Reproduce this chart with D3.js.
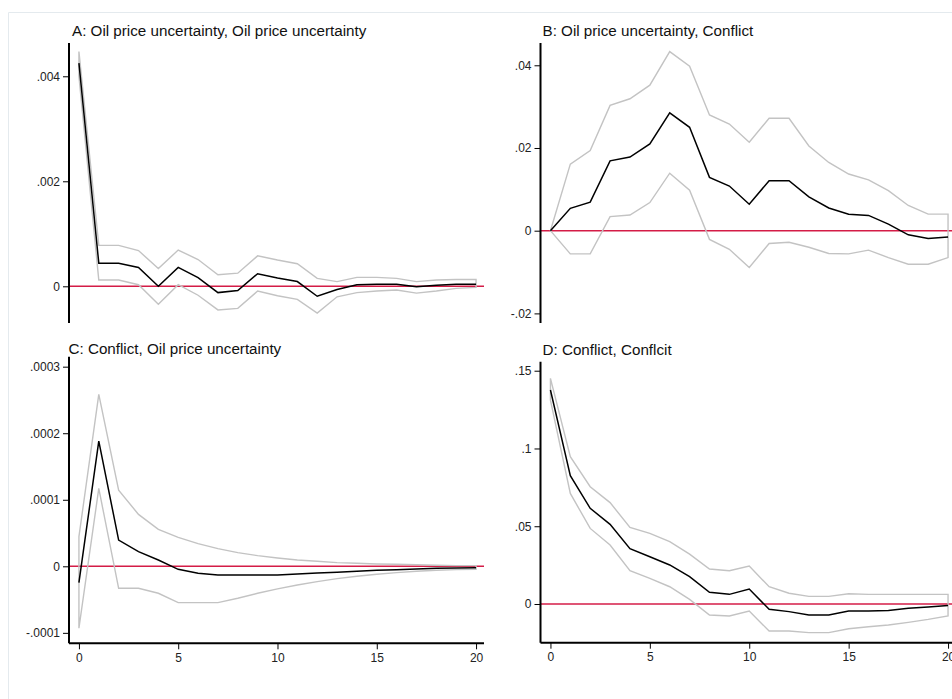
<!DOCTYPE html>
<html>
<head>
<meta charset="utf-8">
<script src="https://cdn.jsdelivr.net/npm/d3@7"></script>
<style>
body { margin: 0; background: #fff; }
text { font-family: Arial, "Liberation Sans", sans-serif; }
</style>
</head>
<body>
<script>
// horizon (steps after the shock)
var steps = d3.range(0, 21)
var xTicks = [0, 5, 10, 15, 20]

var titleA = "A: Oil price uncertainty, Oil price uncertainty"
var titleB = "B: Oil price uncertainty, Conflict"
var titleC = "C: Conflict, Oil price uncertainty"
var titleD = "D: Conflict, Conflcit"

// A: oil price uncertainty -> oil price uncertainty
var irfA = [0.00425, 0.00044, 0.00044, 0.00036, 0.0, 0.00036, 0.000165, -0.00012, -0.00008, 0.00024, 0.00016,
	0.00009, -0.00019, -0.00006, 0.00003, 0.00004, 0.00004, -0.00001, 0.00002, 0.00004, 0.00004]
var upA = [0.00447, 0.00078, 0.00078, 0.00068, 0.00034, 0.00069, 0.00051, 0.00022, 0.00025, 0.00058, 0.0005,
	0.00043, 0.00015, 0.00009, 0.00017, 0.00017, 0.00015, 0.00009, 0.00012, 0.00013, 0.00013]
var loA = [0.0040, 0.00012, 0.00012, 0.00003, -0.00034, 0.00003, -0.00017, -0.00045, -0.00042, -0.00009, -0.00018,
	-0.00025, -0.00051, -0.0002, -0.00012, -0.00009, -0.00007, -0.00013, -0.00009, -0.00004, -0.00002]
var ticksA = [0, 0.002, 0.004]
var labelsA = ["0", ".002", ".004"]

// B: oil price uncertainty -> conflict
var irfB = [0, 0.0054, 0.0069, 0.0169, 0.0178, 0.021, 0.0285, 0.025, 0.0129, 0.0108, 0.0064,
	0.0121, 0.0121, 0.0082, 0.0055, 0.004, 0.0037, 0.0016, -0.001, -0.0019, -0.0015]
var upB = [0, 0.0161, 0.0194, 0.0303, 0.0319, 0.0352, 0.0433, 0.0398, 0.028, 0.0258, 0.0214,
	0.0272, 0.0272, 0.0205, 0.0165, 0.0137, 0.0123, 0.0097, 0.0061, 0.004, 0.004]
var loB = [0, -0.0056, -0.0056, 0.0034, 0.0038, 0.0068, 0.0139, 0.0098, -0.0021, -0.0045, -0.0089,
	-0.0031, -0.0028, -0.004, -0.0055, -0.0056, -0.0047, -0.0065, -0.0081, -0.0081, -0.0065]
var ticksB = [-0.02, 0, 0.02, 0.04]
var labelsB = ["-.02", "0", ".02", ".04"]

// C: conflict -> oil price uncertainty
var irfC = [-0.0000245, 0.000188, 0.0000395, 0.000022, 0.0000095, -0.0000045, -0.0000105, -0.000013, -0.000013, -0.000013, -0.000013,
	-0.0000115, -0.00001, -0.000009, -0.0000075, -0.000006, -0.000005, -0.000004, -0.000003, -0.0000025, -0.000002]
var upC = [0.0000445, 0.0002585, 0.0001145, 0.000078, 0.0000555, 0.0000435, 0.000034, 0.0000265, 0.0000205, 0.000016, 0.0000125,
	0.0000095, 0.0000075, 0.0000055, 0.0000045, 0.0000035, 0.000003, 0.0000025, 0.0000015, 0.000001, 0.000001]
var loC = [-0.000093, 0.000117, -0.000033, -0.000033, -0.0000405, -0.0000545, -0.0000545, -0.0000545, -0.000048, -0.0000405, -0.000034,
	-0.000028, -0.000023, -0.0000185, -0.000015, -0.000012, -0.0000095, -0.0000075, -0.000006, -0.000005, -0.0000045]
var ticksC = [-0.0001, 0, 0.0001, 0.0002, 0.0003]
var labelsC = ["-.0001", "0", ".0001", ".0002", ".0003"]

// D: conflict -> conflict
var irfD = [0.1376, 0.0825, 0.0615, 0.0512, 0.0356, 0.0304, 0.0251, 0.0176, 0.0075, 0.0062, 0.0096,
	-0.0034, -0.0049, -0.0071, -0.0071, -0.0045, -0.0045, -0.0041, -0.0028, -0.0019, -0.0009]
var upD = [0.1451, 0.0947, 0.0754, 0.0652, 0.0493, 0.0454, 0.0401, 0.0321, 0.0225, 0.0214, 0.0244,
	0.0111, 0.0069, 0.0049, 0.0049, 0.0066, 0.0062, 0.0062, 0.0062, 0.0062, 0.0062]
var loD = [0.1311, 0.0711, 0.0486, 0.0379, 0.0214, 0.0165, 0.0111, 0.003, -0.0071, -0.0077, -0.0045,
	-0.0174, -0.0174, -0.0184, -0.0184, -0.0159, -0.0146, -0.0135, -0.0118, -0.0099, -0.0077]
var ticksD = [0, 0.05, 0.1, 0.15]
var labelsD = ["0", ".05", ".1", ".15"]

var W = 952, H = 699

var svg = d3.select("body").append("svg")
	.attr("width", W)
	.attr("height", H)

// faint outer graph-region frame
svg.append("path")
	.attr("d", "M8.5," + H + "V12.5H" + W)
	.style("fill", "none")
	.style("stroke", "#e4eaee")
	.style("stroke-width", 1)

// panel boxes: left = y axis position, right/top/bottom of the plot region
var panels = [
	{title: titleA, irf: irfA, up: upA, lo: loA, ticks: ticksA, labels: labelsA, yDom: [-0.000699, 0.004634],
		left: 69, right: 484, top: 43, bottom: 323, tx: 72, ty: 36, xAxis: false},
	{title: titleB, irf: irfB, up: upB, lo: loB, ticks: ticksB, labels: labelsB, yDom: [-0.02232, 0.04539],
		left: 540.5, right: 956, top: 43, bottom: 323, tx: 542.5, ty: 36, xAxis: false},
	{title: titleC, irf: irfC, up: upC, lo: loC, ticks: ticksC, labels: labelsC, yDom: [-0.0001157, 0.000315],
		left: 69, right: 484, top: 356.7, bottom: 643.3, tx: 68.5, ty: 354, xAxis: true},
	{title: titleD, irf: irfD, up: upD, lo: loD, ticks: ticksD, labels: labelsD, yDom: [-0.02488, 0.15579],
		left: 540.5, right: 956, top: 361.7, bottom: 642.7, tx: 542.5, ty: 355, xAxis: true}
]

panels.forEach(function(p) {
	var x = d3.scaleLinear().domain([-0.5, 20.4]).range([p.left, p.right])
	var y = d3.scaleLinear().domain(p.yDom).range([p.bottom, p.top])
	var g = svg.append("g")

	g.append("text")
		.attr("x", p.tx)
		.attr("y", p.ty)
		.style("font-size", "15.2px")
		.style("fill", "#111")
		.text(p.title)

	// zero reference line
	g.append("line")
		.attr("x1", p.left).attr("x2", p.right)
		.attr("y1", y(0)).attr("y2", y(0))
		.style("stroke", "#d41c47")
		.style("stroke-width", 1.6)

	// confidence band outline (upper forward, lower back)
	var band = steps.map(function(s) { return [s, p.up[s]] })
		.concat(steps.slice().reverse().map(function(s) { return [s, p.lo[s]] }))
	g.append("path")
		.datum(band)
		.attr("d", d3.line().x(function(d) { return x(d[0]) }).y(function(d) { return y(d[1]) }).curve(d3.curveLinearClosed))
		.style("fill", "none")
		.style("stroke", "#c3c3c3")
		.style("stroke-width", 1.4)

	g.append("path")
		.datum(steps)
		.attr("d", d3.line().x(function(s) { return x(s) }).y(function(s) { return y(p.irf[s]) }))
		.style("fill", "none")
		.style("stroke", "#000")
		.style("stroke-width", 1.5)

	var yAxis = g.append("g")
		.attr("transform", "translate(" + p.left + ",0)")
		.call(d3.axisLeft(y).tickValues(p.ticks).tickSize(6).tickPadding(3)
			.tickFormat(function(d, i) { return p.labels[i] }))
	yAxis.select(".domain").attr("d", "M0," + p.top + "V" + p.bottom).style("stroke-width", 2)

	if (p.xAxis) {
		var xAxis = g.append("g")
			.attr("transform", "translate(0," + p.bottom + ")")
			.call(d3.axisBottom(x).tickValues(xTicks).tickSize(6).tickPadding(4).tickFormat(d3.format("d")))
		xAxis.select(".domain").attr("d", "M" + p.left + ",0H" + p.right).style("stroke-width", 2)
		xAxis.selectAll("text").style("font-size", "12px").style("fill", "#222").style("font-family", "Arial, 'Liberation Sans', sans-serif")
	}

	yAxis.selectAll("text").style("font-size", "12px").style("fill", "#222").style("font-family", "Arial, 'Liberation Sans', sans-serif")
})
</script>
</body>
</html>
